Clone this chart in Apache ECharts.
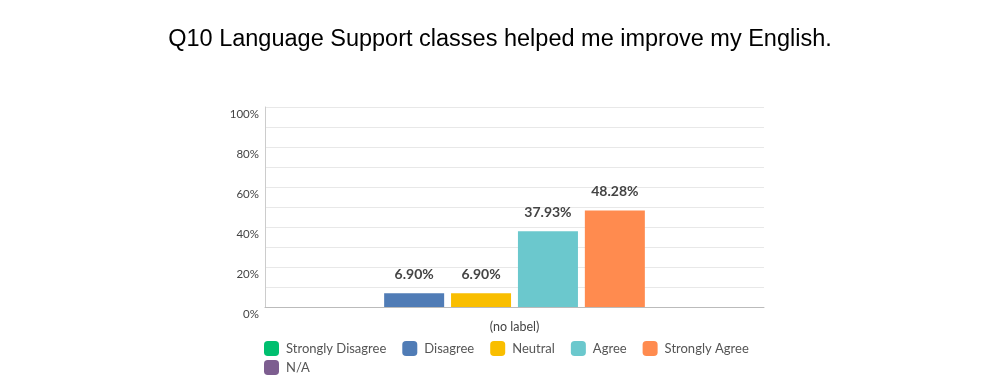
<!DOCTYPE html>
<html><head><meta charset="utf-8">
<script src="https://cdn.jsdelivr.net/npm/echarts@6/dist/echarts.min.js"></script>
<style>html,body{margin:0;padding:0;background:#fff}#c{width:1000px;height:390px}</style>
</head><body><div id="c"></div>
<script>
const title = "Q10 Language Support classes helped me improve my English.";
const categories = ["(no label)"];
const seriesNames = ["Strongly Disagree", "Disagree", "Neutral", "Agree", "Strongly Agree", "N/A"];
const seriesValues = [[0], [6.90], [6.90], [37.93], [48.28], [0]];
const colors = ["#00BF6F", "#507CB6", "#F9BE00", "#6BC8CD", "#FF8B4F", "#7D5E90"];

const chart = echarts.init(document.getElementById('c'), null, {renderer: 'canvas'});
const font = "Lato, 'Noto Sans', sans-serif";
const legendText = {fontFamily: font, fontSize: 13, color: '#555', padding: [0, 0, 0, 2]};
chart.setOption({
  animation: false,
  color: colors,
  title: {
    text: title, left: 'center', top: 23,
    textStyle: {fontFamily: "'Liberation Sans', Arial, sans-serif", fontSize: 23.5, fontWeight: 'normal', color: '#000'}
  },
  grid: {left: 265, right: 236, top: 107, bottom: 83, containLabel: false},
  legend: [{
    left: 259, top: 336, itemWidth: 15, itemHeight: 15, itemGap: 16,
    icon: 'roundRect', selectedMode: false,
    data: seriesNames.slice(0, 5),
    textStyle: legendText, itemStyle: {borderRadius: 2}
  }, {
    left: 259, top: 355, itemWidth: 15, itemHeight: 15, itemGap: 16,
    icon: 'roundRect', selectedMode: false,
    data: seriesNames.slice(5),
    textStyle: legendText, itemStyle: {borderRadius: 2}
  }],
  xAxis: {
    type: 'category', data: categories,
    axisLine: {show: true, lineStyle: {color: '#bbb'}},
    axisTick: {show: false},
    axisLabel: {fontFamily: font, fontSize: 12.5, color: '#444', margin: 13}
  },
  yAxis: {
    type: 'value', min: 0, max: 100, interval: 10,
    axisLine: {show: true, lineStyle: {color: '#ccc'}},
    axisTick: {show: false},
    splitLine: {lineStyle: {color: '#e8e8e8'}},
    axisLabel: {
      fontFamily: font, fontSize: 11.5, color: '#444', margin: 6, verticalAlign: 'top', padding: [1, 0, 0, 0],
      formatter: v => (v % 20 === 0 ? v + '%' : '')
    }
  },
  series: seriesNames.map((n, i) => ({
    name: n, type: 'bar', data: seriesValues[i],
    barWidth: 60, barGap: '11.5%',
    label: {
      show: seriesValues[i][0] > 0, position: 'top', distance: 12,
      formatter: p => p.value.toFixed(2) + '%',
      fontFamily: font, fontSize: 14, fontWeight: 'bold', color: '#444'
    }
  }))
});
</script></body></html>
